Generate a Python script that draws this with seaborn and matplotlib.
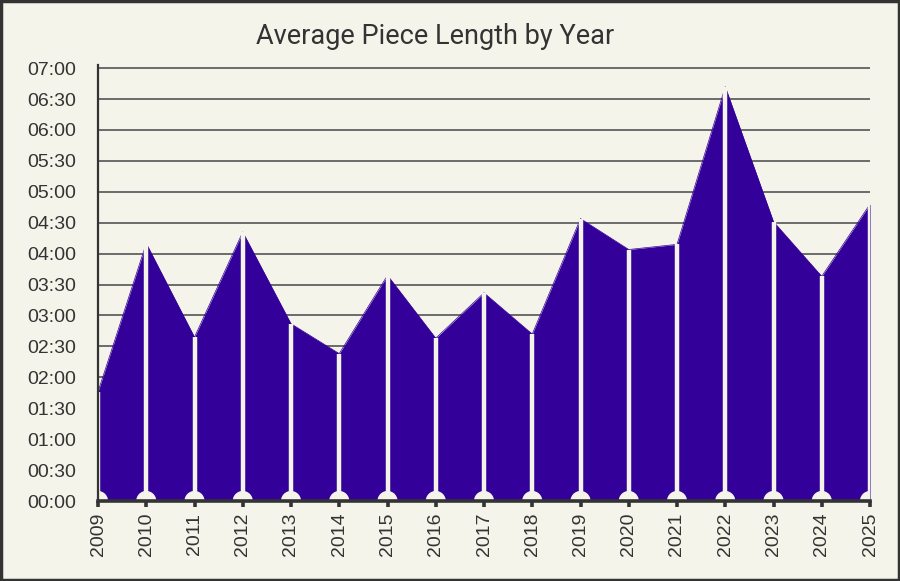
import matplotlib
matplotlib.use("Agg")
import matplotlib.pyplot as plt
import seaborn as sns
import pandas as pd
from matplotlib.ticker import MultipleLocator, FuncFormatter

years = list(range(2009, 2026))
avg_seconds = [106, 250, 159, 261, 172, 143, 219, 158, 202, 162,
               274, 244, 249, 402, 271, 218, 288]
title = "Average Piece Length by Year"

BG = "#f5f4ea"
PURPLE = "#330099"
DARK = "#333333"

sns.set_theme(style="white")
plt.rcParams['font.family'] = ['Liberation Sans', 'DejaVu Sans']

df = pd.DataFrame({"year": years, "seconds": avg_seconds})

fig = plt.figure(figsize=(9, 5.81), dpi=100, facecolor=BG)
ax = fig.add_axes([98/900, 1 - 501/581, (870 - 98)/900, (501 - 64.5)/581])
ax.set_facecolor(BG)

# gridlines
ax.yaxis.set_major_locator(MultipleLocator(30))
ax.grid(axis="y", color="#6b6b6b", linewidth=1.4, zorder=0)
ax.set_axisbelow(True)

# area
sns.lineplot(data=df, x="year", y="seconds", ax=ax, color=PURPLE, linewidth=0.5, zorder=2)
ax.fill_between(df["year"], 0, df["seconds"], color=PURPLE, linewidth=0, zorder=2)

# stems and baseline semicircles in background color
ax.vlines(df["year"], 0, df["seconds"], color=BG, linewidth=3.2, zorder=3)
ax.scatter(df["year"], [0] * len(years), s=210, color=BG, edgecolors="none", zorder=4, clip_on=True)

ax.set_xlim(2009, 2025)
ax.set_ylim(0, 423.5)
ax.set_xticks(years)
ax.set_xticklabels([str(y) for y in years], rotation=90)

ax.yaxis.set_major_formatter(FuncFormatter(lambda v, p: f"{int(v)//60:02d}:{int(v)%60:02d}"))

for s in ["top", "right"]:
    ax.spines[s].set_visible(False)
ax.spines["left"].set_color(DARK)
ax.spines["left"].set_linewidth(1.6)
ax.spines["bottom"].set_color(DARK)
ax.spines["bottom"].set_linewidth(2.6)
ax.spines["left"].set_zorder(5)
ax.spines["bottom"].set_zorder(5)

ax.tick_params(axis="x", bottom=True, length=4.5, width=2.6, color=DARK, labelsize=14, labelcolor=DARK, pad=4)
ax.tick_params(axis="y", left=False, length=0, labelsize=14, labelcolor=DARK, pad=16)
ax.set_xlabel("")
ax.set_ylabel("")

fig.text(435/900, 1 - 37/581, title, ha="center", va="center", fontsize=19.5,
         color=DARK, family=["Roboto", "DejaVu Sans"])

# figure border
border = plt.Rectangle((0.0015, 0.002), 0.997, 0.9955, transform=fig.transFigure,
                       fill=False, edgecolor=DARK, linewidth=2.5)
fig.patches.append(border)

fig.savefig("out.png", dpi=100, facecolor=BG)
